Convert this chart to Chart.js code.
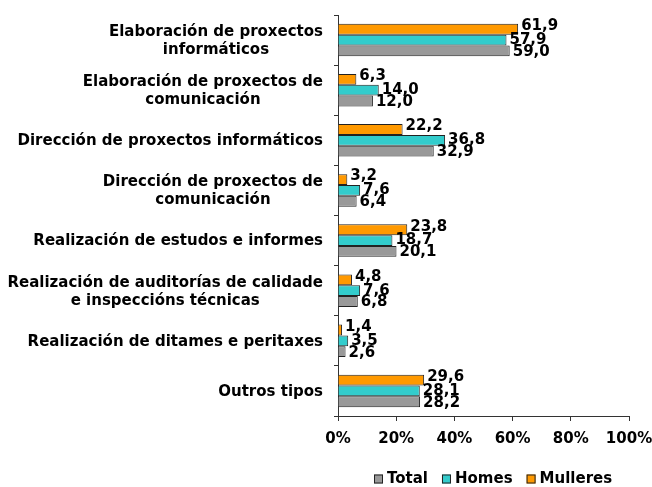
<!DOCTYPE html>
<html>
<head>
<meta charset="utf-8">
<script src="https://cdn.jsdelivr.net/npm/chart.js@4/dist/chart.umd.min.js"></script>
<style>
  html, body { margin: 0; padding: 0; background: #fff; }
  #wrap { width: 652px; height: 487px; }
</style>
</head>
<body>
<div id="wrap"><canvas id="chart"></canvas></div>
<script>
// Datos
const categories = [
    ['Elaboración de proxectos', 'informáticos'],
    ['Elaboración de proxectos de', 'comunicación'],
    ['Dirección de proxectos informáticos'],
    ['Dirección de proxectos de', 'comunicación'],
    ['Realización de estudos e informes'],
    ['Realización de auditorías de calidade', 'e inspeccións técnicas'],
    ['Realización de ditames e peritaxes'],
    ['Outros tipos']
];
const mulleres = [61.9, 6.3, 22.2, 3.2, 23.8, 4.8, 1.4, 29.6];
const homes = [57.9, 14.0, 36.8, 7.6, 18.7, 7.6, 3.5, 28.1];
const total = [59.0, 12.0, 32.9, 6.4, 20.1, 6.8, 2.6, 28.2];
const xTicks = [0, 20, 40, 60, 80, 100];

const FONT = 'DejaVu Sans, Verdana, sans-serif';
const FSIZE = 15;
const labelOffsets = [-3, 0, 1]; // mulleres, homes, total

// etiquetas de valor ao final de cada barra
const valueLabels = {
    id: 'valueLabels',
    afterDatasetsDraw(chart) {
        const ctx = chart.ctx;
        ctx.save();
        ctx.font = 'bold ' + FSIZE + 'px ' + FONT;
        ctx.fillStyle = '#000';
        ctx.textAlign = 'left';
        ctx.textBaseline = 'middle';
        chart.data.datasets.forEach((ds, di) => {
            const meta = chart.getDatasetMeta(di);
            meta.data.forEach((el, i) => {
                const txt = ds.data[i].toFixed(1).replace('.', ',');
                ctx.fillText(txt, el.x + 3, el.y + labelOffsets[di]);
            });
        });
        ctx.restore();
    }
};

// etiquetas do eixo Y: liñas centradas entre si, bloque aliñado á dereita
const yLabels = {
    id: 'yLabels',
    afterDraw(chart) {
        const ctx = chart.ctx;
        const yScale = chart.scales.y;
        ctx.save();
        ctx.font = 'bold ' + FSIZE + 'px ' + FONT;
        ctx.fillStyle = '#000';
        ctx.textAlign = 'center';
        ctx.textBaseline = 'middle';
        const right = yScale.right - 15;
        const lh = 18;
        categories.forEach((lines, i) => {
            const cy = yScale.getPixelForValue(i);
            const maxW = Math.max(...lines.map(l => ctx.measureText(l).width));
            const cx = right - maxW / 2;
            lines.forEach((l, j) => {
                ctx.fillText(l, cx, cy + (j - (lines.length - 1) / 2) * lh + 1);
            });
        });
        ctx.restore();
    }
};

// lenda propia (Total, Homes, Mulleres)
const customLegend = {
    id: 'customLegend',
    afterDraw(chart) {
        const ctx = chart.ctx;
        ctx.save();
        ctx.font = 'bold ' + FSIZE + 'px ' + FONT;
        ctx.textAlign = 'left';
        ctx.textBaseline = 'middle';
        const cy = 479;
        let x = 374;
        const items = chart.data.datasets.slice().reverse();
        items.forEach((ds) => {
            ctx.fillStyle = ds.backgroundColor;
            ctx.fillRect(x, cy - 4.5, 9, 9);
            ctx.strokeStyle = '#222';
            ctx.lineWidth = 1;
            ctx.strokeRect(x + 0.5, cy - 4, 8, 8);
            x += 13;
            ctx.fillStyle = '#000';
            ctx.fillText(ds.label, x, cy);
            x += ctx.measureText(ds.label).width + 14;
        });
        ctx.restore();
    }
};

const ctx = document.getElementById('chart').getContext('2d');
new Chart(ctx, {
    type: 'bar',
    data: {
        labels: categories,
        datasets: [
            { label: 'Mulleres', data: mulleres, backgroundColor: '#FF9900', borderColor: '#222', borderWidth: 1 },
            { label: 'Homes', data: homes, backgroundColor: '#33CCCC', borderColor: '#222', borderWidth: 1 },
            { label: 'Total', data: total, backgroundColor: '#999999', borderColor: '#222', borderWidth: 1 }
        ]
    },
    options: {
        indexAxis: 'y',
        responsive: true,
        maintainAspectRatio: false,
        animation: false,
        devicePixelRatio: 1,
        layout: { padding: { top: 15, right: 23, left: 0, bottom: 29 } },
        datasets: { bar: { categoryPercentage: 0.65, barPercentage: 1.0 } },
        plugins: {
            legend: { display: false },
            tooltip: { enabled: false }
        },
        scales: {
            x: {
                min: 0,
                max: 100,
                afterBuildTicks: (scale) => { scale.ticks = xTicks.map(v => ({ value: v })); },
                afterFit: (scale) => { scale.height = 42; scale.paddingRight = 0; scale.paddingLeft = 0; },
                grid: { drawOnChartArea: false, drawTicks: true, tickLength: 5, color: '#333' },
                border: { color: '#333' },
                ticks: {
                    padding: 9,
                    color: '#000',
                    font: { family: FONT, size: FSIZE, weight: 'bold' },
                    callback: (v) => v + '%'
                }
            },
            y: {
                afterFit: (scale) => { scale.width = 338; },
                grid: { drawOnChartArea: false, drawTicks: true, tickLength: 4, offset: true, color: '#333' },
                border: { color: '#333' },
                ticks: { display: false }
            }
        }
    },
    plugins: [valueLabels, yLabels, customLegend]
});
</script>
</body>
</html>
